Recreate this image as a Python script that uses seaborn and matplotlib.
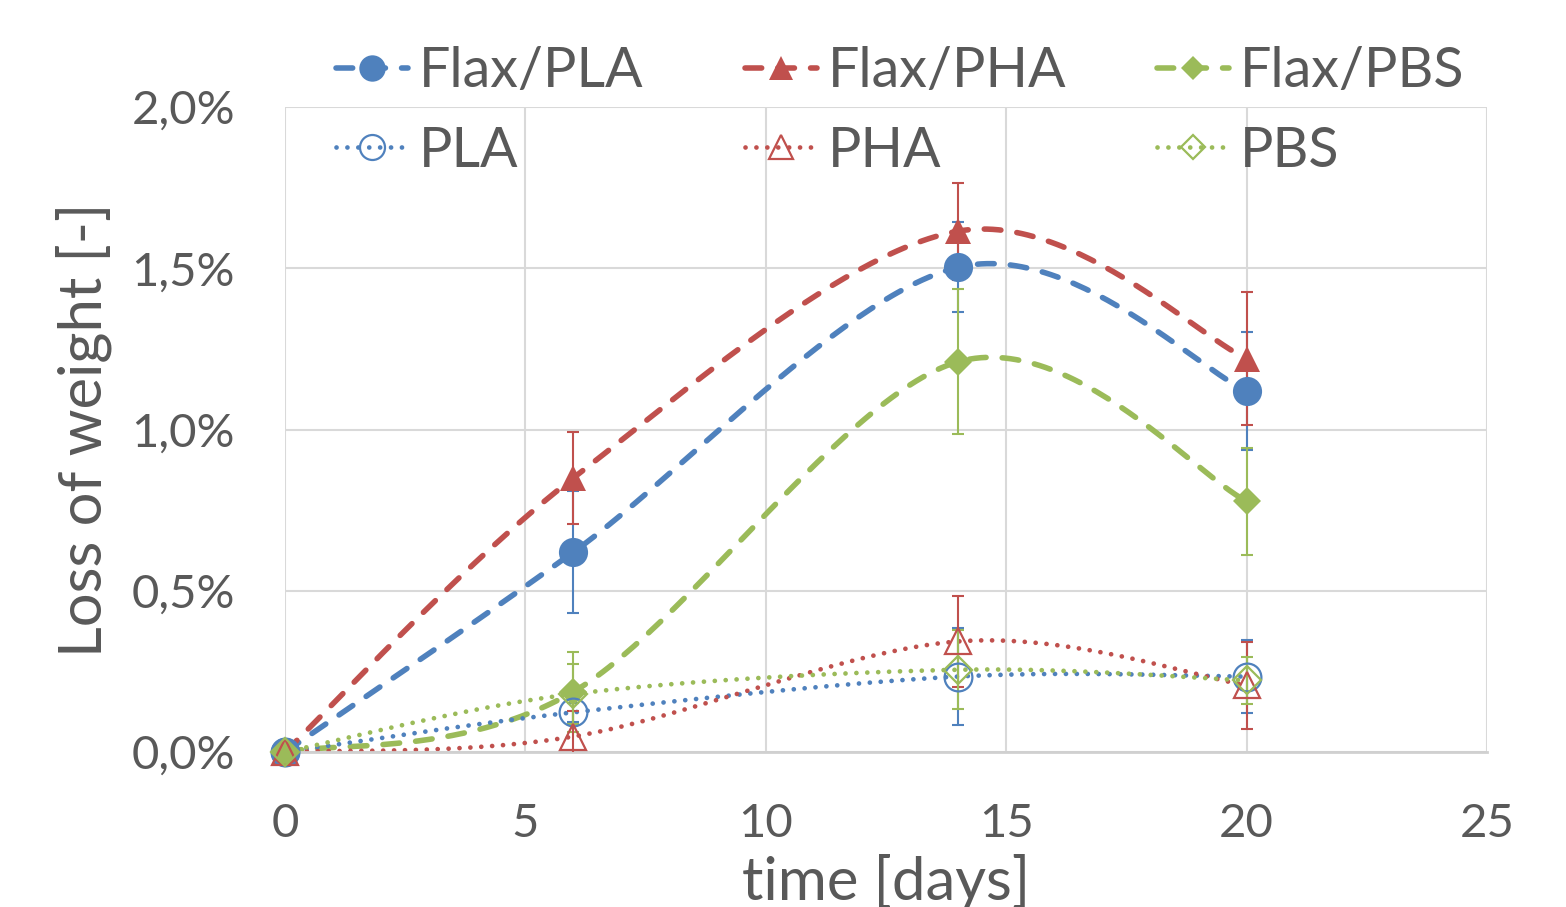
import numpy as np
import pandas as pd
import matplotlib
matplotlib.use("Agg")
import matplotlib.pyplot as plt
import seaborn as sns
from matplotlib.lines import Line2D
from matplotlib.ticker import FuncFormatter, MultipleLocator

# ---------------- data (loss of weight in %) ----------------
days = [0, 6, 14, 20]
flax_pla = [0.0, 0.62, 1.503, 1.12]
flax_pla_err = [0.0, 0.19, 0.14, 0.183]
flax_pha = [0.0, 0.85, 1.615, 1.22]
flax_pha_err = [0.0, 0.143, 0.15, 0.205]
flax_pbs = [0.0, 0.187, 1.21, 0.778]
flax_pbs_err = [0.0, 0.124, 0.225, 0.166]
pla = [0.0, 0.123, 0.234, 0.234]
pla_err = [0.0, 0.03, 0.15, 0.112]
pha = [0.0, 0.048, 0.343, 0.207]
pha_err = [0.0, 0.08, 0.142, 0.135]
pbs = [0.0, 0.18, 0.255, 0.222]
pbs_err = [0.0, 0.092, 0.123, 0.074]

labels = ["Flax/PLA", "Flax/PHA", "Flax/PBS", "PLA", "PHA", "PBS"]
values = [flax_pla, flax_pha, flax_pbs, pla, pha, pbs]
errors = [flax_pla_err, flax_pha_err, flax_pbs_err, pla_err, pha_err, pbs_err]

BLUE, RED, GREEN = "#4F81BD", "#C0504D", "#9BBB59"
colors = [BLUE, RED, GREEN, BLUE, RED, GREEN]
markers = ["o", "^", "D", "o", "^", "D"]
msizes = [21, 19, 14, 20, 19, 14]
filled = [True, True, True, False, False, False]
TXT = "#595959"

DASHED = (0, (3.0, 2.9))
DOTTED = (0, (0.01, 2.3))
LW_DASH = 4.0
LW_DOT = 3.4


def excel_smooth(xs, ys, n=60):
    """Bezier smoothing through the data points (Excel-like smoothed line)."""
    pts = np.column_stack([xs, ys]).astype(float)
    P = np.vstack([pts[0], pts, pts[-1]])
    t = np.linspace(0, 1, n)[:, None]
    segs = []
    for i in range(len(pts) - 1):
        p0, p1, p2, p3 = P[i], P[i + 1], P[i + 2], P[i + 3]
        c1 = p1 + (p2 - p0) / 6.0
        c2 = p2 - (p3 - p1) / 6.0
        b = ((1 - t) ** 3) * p1 + 3 * ((1 - t) ** 2) * t * c1 + 3 * (1 - t) * t ** 2 * c2 + t ** 3 * p2
        segs.append(b if i == 0 else b[1:])
    s = np.vstack(segs)
    return s[:, 0], s[:, 1]


sns.set_theme(style="white")
plt.rcParams["font.family"] = ["Lato", "DejaVu Sans"]

fig = plt.figure(figsize=(15.66, 9.07), dpi=100)
ax = fig.add_axes([285 / 1566, 155 / 907, 1202 / 1566, 645 / 907])

# curves
for lab, v, c, f in zip(labels, values, colors, filled):
    sx, sy = excel_smooth(days, v)
    df = pd.DataFrame({"x": sx, "y": sy})
    if f:
        sns.lineplot(data=df, x="x", y="y", ax=ax, sort=False, estimator=None, color=c,
                     lw=LW_DASH, linestyle=DASHED, dash_capstyle="round", zorder=2)
    else:
        sns.lineplot(data=df, x="x", y="y", ax=ax, sort=False, estimator=None, color=c,
                     lw=LW_DOT, linestyle=DOTTED, dash_capstyle="round", zorder=2)

# error bars
for v, e, c in zip(values, errors, colors):
    ax.errorbar(days[1:], v[1:], yerr=e[1:], fmt="none", ecolor=c, elinewidth=1.5,
                capsize=4.5, capthick=1.5, zorder=3)

# markers
for i, (v, c, m, ms, f) in enumerate(zip(values, colors, markers, msizes, filled)):
    ax.plot(days, v, ls="none", marker=m, ms=ms, color=c,
            mfc=c if f else "none", mec=c, mew=0 if f else 1.6,
            clip_on=False, zorder=4 + i * 0.1)

ax.set_xlim(0, 25)
ax.set_ylim(0, 2.0)
ax.xaxis.set_major_locator(MultipleLocator(5))
ax.yaxis.set_major_locator(MultipleLocator(0.5))
ax.yaxis.set_major_formatter(FuncFormatter(lambda y, p: f"{y:.1f}%".replace(".", ",")))
ax.grid(True, color="#d9d9d9", lw=1.5)
for s in ["top", "right", "left"]:
    ax.spines[s].set_visible(False)
ax.spines["bottom"].set_color("#d0d0d0")
ax.spines["bottom"].set_linewidth(2)
ax.tick_params(axis="x", length=0, labelsize=34, colors=TXT, pad=37)
ax.tick_params(axis="y", length=0, labelsize=34, colors=TXT, pad=36)
ax.set_xlabel("time [days]", fontsize=43, color=TXT, labelpad=6)
ax.set_ylabel("Loss of weight [-]", fontsize=43, color=TXT, labelpad=14)

# legend: three columns, two rows
col_x = [336, 745, 1157]
for k in range(3):
    hs = []
    for j in (k, k + 3):
        hs.append(Line2D([], [], color=colors[j], lw=LW_DASH if filled[j] else LW_DOT,
                         linestyle=DASHED if filled[j] else DOTTED, dash_capstyle="round",
                         marker=markers[j], ms=msizes[j] - 2,
                         mfc=colors[j] if filled[j] else "none", mec=colors[j],
                         mew=0 if filled[j] else 1.6))
    leg = fig.legend(handles=hs, labels=[labels[k], labels[k + 3]], loc="upper left",
                     bbox_to_anchor=(col_x[k] / 1566, 1 - 46 / 907), frameon=False,
                     fontsize=40, handlelength=1.3, handletextpad=0.2,
                     labelspacing=0.52, borderpad=0, borderaxespad=0)
    for t in leg.get_texts():
        t.set_color(TXT)

fig.savefig("out.png", dpi=100)
